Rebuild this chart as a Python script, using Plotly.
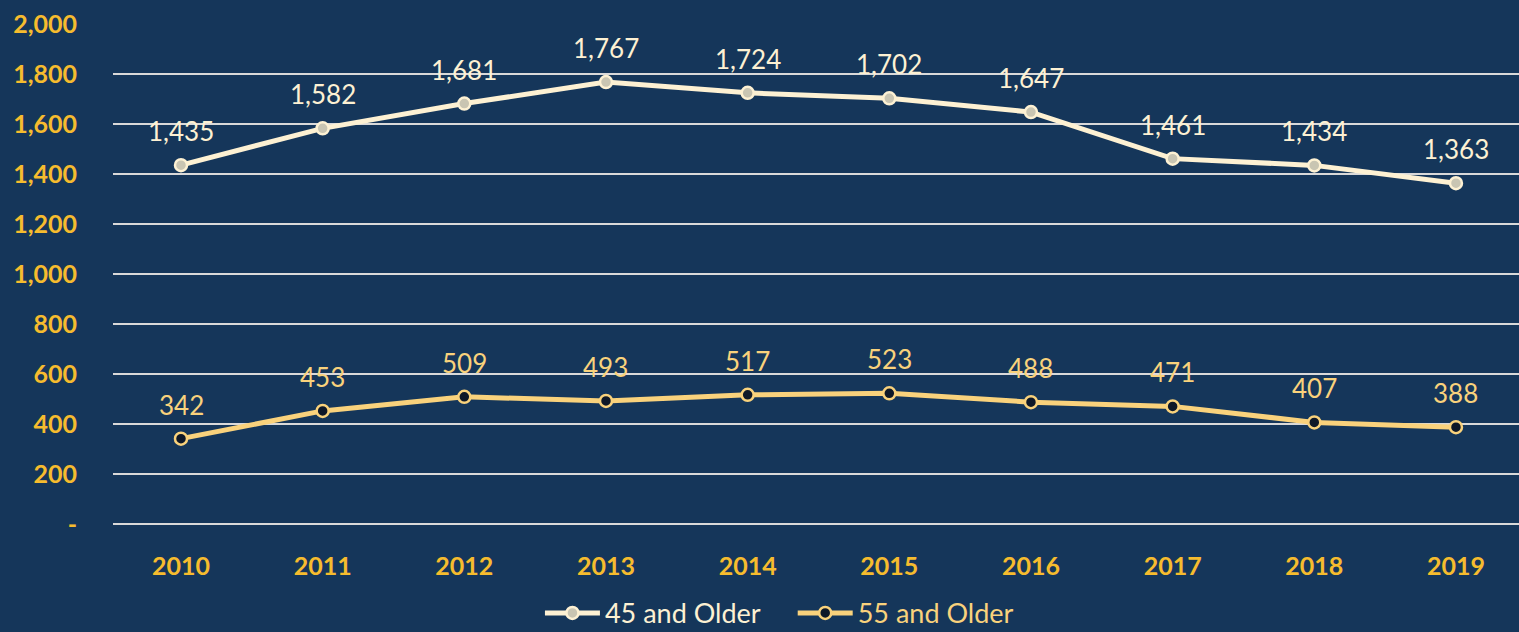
import plotly.graph_objects as go

years = ["2010", "2011", "2012", "2013", "2014", "2015", "2016", "2017", "2018", "2019"]
older45 = [1435, 1582, 1681, 1767, 1724, 1702, 1647, 1461, 1434, 1363]
older55 = [342, 453, 509, 493, 517, 523, 488, 471, 407, 388]
ytick_vals = [0, 200, 400, 600, 800, 1000, 1200, 1400, 1600, 1800, 2000]
ytick_text = ["-", "200", "400", "600", "800", "1,000", "1,200", "1,400", "1,600", "1,800", "2,000"]

BG = "#15365A"
C45 = "#FDF1D3"
C45M = "#C9C5B2"
C55 = "#F9D27C"
C55M = "#0E1828"
TICK = "#F6BC2E"
GRID = "#D9D9D9"
FONT = "Lato"

fig = go.Figure()
fig.add_trace(go.Scatter(
    x=list(range(len(years))), y=older45, mode="lines+markers",
    name="45 and Older&nbsp;&nbsp;&nbsp;&nbsp;",
    line=dict(color=C45, width=5),
    marker=dict(size=12, color=C45M, line=dict(color=C45, width=2.5)),
))
fig.add_trace(go.Scatter(
    x=list(range(len(years))), y=older55, mode="lines+markers",
    name="<span style='color:%s'>55 and Older</span>" % C55,
    line=dict(color=C55, width=5),
    marker=dict(size=12, color=C55M, line=dict(color=C55, width=2.5)),
))

for i, v in enumerate(older45):
    fig.add_annotation(x=i, y=v, text=f"{v:,}", showarrow=False, yshift=34,
                       font=dict(family=FONT, size=26, color=C45))
for i, v in enumerate(older55):
    fig.add_annotation(x=i, y=v, text=f"{v:,}", showarrow=False, yshift=34,
                       font=dict(family=FONT, size=26, color=C55))

fig.update_layout(
    width=1519, height=632,
    paper_bgcolor=BG, plot_bgcolor=BG,
    margin=dict(l=113, r=0, t=23, b=107, autoexpand=False),
    showlegend=True,
    legend=dict(orientation="h", x=0.474, xanchor="center", y=-0.176, yanchor="middle",
                font=dict(family=FONT, size=27, color=C45), itemwidth=55,
                bgcolor="rgba(0,0,0,0)", tracegroupgap=0, traceorder="normal"),
    xaxis=dict(range=[-0.48, 9.445], tickmode="array", tickvals=list(range(len(years))),
               ticktext=["<b>%s</b>" % y for y in years], showgrid=False, zeroline=False,
               showline=False, ticks="", ticklabelstandoff=24,
               tickfont=dict(family=FONT, size=25, color=TICK)),
    yaxis=dict(range=[-3, 2003], tickmode="array", tickvals=ytick_vals,
               ticktext=["<b>%s</b>" % t for t in ytick_text],
               showgrid=True, gridcolor=GRID, gridwidth=2,
               zeroline=True, zerolinecolor=GRID, zerolinewidth=2,
               showline=False, ticks="", ticklabelstandoff=35,
               tickfont=dict(family=FONT, size=25, color=TICK)),
)

fig.write_html("out.html", config={"displayModeBar": False},
               post_script="document.body.style.margin='0';document.body.style.background='%s';" % BG)
